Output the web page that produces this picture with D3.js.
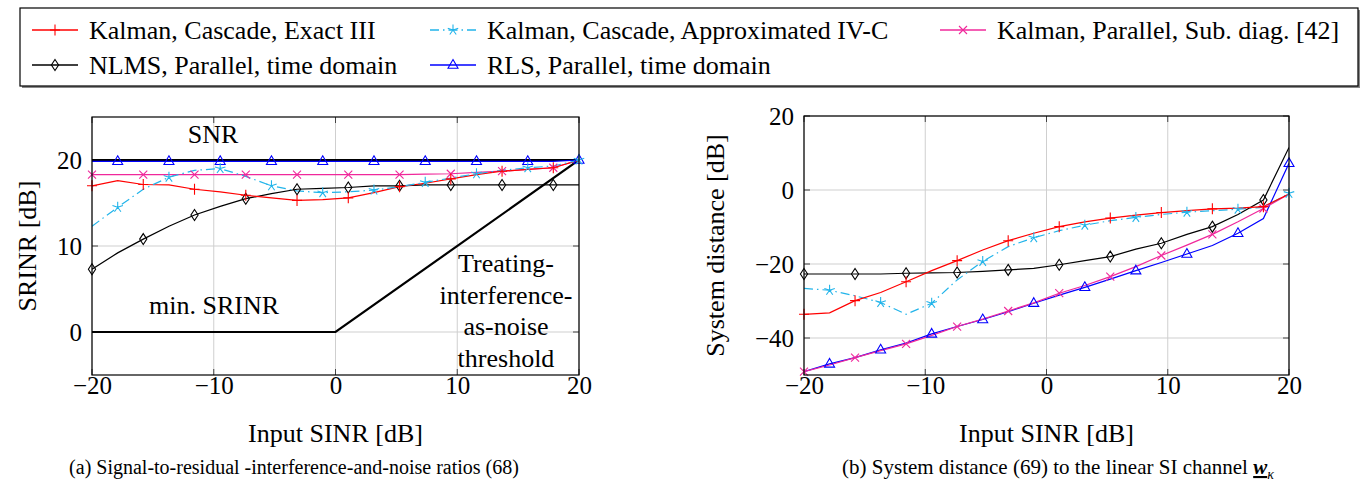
<!DOCTYPE html>
<html>
<head>
<meta charset="utf-8">
<script src="https://cdn.jsdelivr.net/npm/d3@7"></script>
<style>
  body { margin: 0; background: #fff; }
  svg text { font-family: "Liberation Serif", "Times New Roman", serif; fill: #000; }
</style>
</head>
<body>
<svg id="chart" width="1362" height="482"></svg>
<script>
// input SINR grid [dB]
const inputSinr = [-20, -17.89, -15.79, -13.68, -11.58, -9.47, -7.37, -5.26, -3.16, -1.05,
                   1.05, 3.16, 5.26, 7.37, 9.47, 11.58, 13.68, 15.79, 17.89, 20];

// (a) SRINR [dB]
const srinrExact  = [17.0, 17.6, 17.15, 17.1, 16.6, 16.3, 15.9, 15.6, 15.3, 15.4,
                     15.6, 16.2, 16.9, 17.3, 17.8, 18.3, 18.7, 18.9, 19.1, 20.0];
const srinrApprox = [12.3, 14.5, 16.6, 18.0, 18.8, 19.0, 18.1, 17.0, 16.4, 16.2,
                     16.3, 16.5, 16.9, 17.4, 17.9, 18.4, 18.8, 19.1, 19.3, 20.0];
const srinrSubDiag = [18.3, 18.3, 18.3, 18.3, 18.3, 18.3, 18.3, 18.3, 18.3, 18.3,
                      18.3, 18.3, 18.3, 18.35, 18.4, 18.55, 18.7, 18.9, 19.1, 20.0];
const srinrNlms   = [7.3, 9.2, 10.8, 12.3, 13.6, 14.6, 15.5, 16.1, 16.6, 16.7,
                     16.8, 17.0, 17.0, 17.1, 17.1, 17.1, 17.1, 17.1, 17.1, 17.1];
const srinrRls    = [19.85, 19.85, 19.85, 19.85, 19.85, 19.85, 19.85, 19.85, 19.85, 19.85,
                     19.85, 19.85, 19.85, 19.85, 19.85, 19.85, 19.85, 19.85, 19.85, 20.0];
const snrLine     = [[-20, 20], [20, 20]];
const minSrinr    = [[-20, 0], [0, 0], [20, 20]];

// (b) system distance [dB]
const distExact  = [-33.6, -33.2, -29.9, -27.7, -24.8, -21.8, -19.1, -16.2, -13.7, -11.7,
                    -9.9, -8.6, -7.6, -6.8, -6.1, -5.6, -5.1, -4.9, -4.5, -1.1];
const distApprox = [-26.6, -27.1, -28.6, -30.4, -33.6, -30.6, -24.3, -19.3, -15.3, -12.9,
                    -11.0, -9.5, -8.3, -7.4, -6.6, -6.0, -5.6, -5.2, -4.7, -0.9];
const distSubDiag = [-49.1, -47.3, -45.3, -43.4, -41.6, -39.3, -36.9, -34.9, -32.7, -30.5,
                     -27.9, -25.8, -23.4, -20.7, -17.7, -14.9, -12.0, -8.6, -5.0, -1.1];
const distNlms   = [-22.7, -22.7, -22.7, -22.7, -22.5, -22.4, -22.3, -22.0, -21.6, -21.2,
                    -20.2, -19.1, -18.0, -16.0, -14.4, -12.0, -9.9, -6.6, -2.7, 11.5];
const distRls    = [-49.1, -47.0, -45.3, -43.2, -41.4, -38.9, -36.9, -35.0, -32.9, -30.6,
                    -28.4, -26.3, -24.1, -21.8, -19.6, -17.3, -15.0, -11.7, -7.7, 7.2];

const xTicks = [-20, -10, 0, 10, 20];
const yTicksA = [0, 10, 20];
const yTicksB = [-40, -20, 0, 20];

const seriesNames = ['Kalman, Cascade, Exact III', 'Kalman, Cascade, Approximated IV-C',
  'Kalman, Parallel, Sub. diag. [42]', 'NLMS, Parallel, time domain', 'RLS, Parallel, time domain'];

const styles = [
  { color: '#ff0000', mark: 'plus', phase: 0, dash: null },
  { color: '#22b4ea', mark: 'star', phase: 1, dash: '9,4,1.5,4' },
  { color: '#f0289b', mark: 'cross', phase: 0, dash: null },
  { color: '#000000', mark: 'diamond', phase: 0, dash: null },
  { color: '#0000ff', mark: 'triangle', phase: 1, dash: null }
];

const SERIF = '"Liberation Serif", "Times New Roman", serif';
const svg = d3.select('#chart');
const FONT = 26;

function markPath(type) {
  if (type === 'plus') return 'M-5,0H5M0,-5.5V5.5';
  if (type === 'cross') return 'M-4,-4L4,4M-4,4L4,-4';
  if (type === 'diamond') return 'M0,-5.5L3.6,0L0,5.5L-3.6,0Z';
  if (type === 'triangle') return 'M0,-5.5L5,3.2L-5,3.2Z';
  if (type === 'star') {
    let p = '';
    for (let k = 0; k < 5; k++) {
      const a = (-90 + 72 * k) * Math.PI / 180;
      p += `M0,0L${(5.5 * Math.cos(a)).toFixed(2)},${(5.5 * Math.sin(a)).toFixed(2)}`;
    }
    return p;
  }
}

function drawPanel(cfg) {
  const x = d3.scaleLinear().domain([-20, 20]).range([cfg.left, cfg.right]);
  const y = d3.scaleLinear().domain(cfg.yDomain).range([cfg.bottom, cfg.top]);
  const g = svg.append('g');

  // grid
  g.selectAll('.gx').data(xTicks).enter().append('line')
    .attr('x1', d => x(d)).attr('x2', d => x(d)).attr('y1', cfg.top).attr('y2', cfg.bottom)
    .attr('stroke', '#cfcfcf').attr('stroke-width', 1);
  g.selectAll('.gy').data(cfg.yTicks).enter().append('line')
    .attr('x1', cfg.left).attr('x2', cfg.right).attr('y1', d => y(d)).attr('y2', d => y(d))
    .attr('stroke', '#cfcfcf').attr('stroke-width', 1);

  // inner ticks on all four sides
  const tl = 6;
  xTicks.forEach(d => {
    g.append('line').attr('x1', x(d)).attr('x2', x(d)).attr('y1', cfg.bottom).attr('y2', cfg.bottom - tl).attr('stroke', '#444');
    g.append('line').attr('x1', x(d)).attr('x2', x(d)).attr('y1', cfg.top).attr('y2', cfg.top + tl).attr('stroke', '#444');
  });
  cfg.yTicks.forEach(d => {
    g.append('line').attr('x1', cfg.left).attr('x2', cfg.left + tl).attr('y1', y(d)).attr('y2', y(d)).attr('stroke', '#444');
    g.append('line').attr('x1', cfg.right).attr('x2', cfg.right - tl).attr('y1', y(d)).attr('y2', y(d)).attr('stroke', '#444');
  });

  const clipId = 'clip' + cfg.id;
  svg.append('clipPath').attr('id', clipId).append('rect')
    .attr('x', cfg.left).attr('y', cfg.top).attr('width', cfg.right - cfg.left).attr('height', cfg.bottom - cfg.top);
  const plot = g.append('g').attr('clip-path', `url(#${clipId})`);

  const line = d3.line().x(d => x(d[0])).y(d => y(d[1]));

  (cfg.extra || []).forEach(e => {
    plot.append('path').attr('d', line(e)).attr('fill', 'none').attr('stroke', '#000').attr('stroke-width', 2.2);
  });

  cfg.series.forEach((vals, k) => {
    const st = styles[cfg.order[k]];
    const pts = inputSinr.map((v, i) => [v, vals[i]]);
    plot.append('path').attr('d', line(pts)).attr('fill', 'none')
      .attr('stroke', st.color).attr('stroke-width', 1.2)
      .attr('stroke-dasharray', st.dash);
    g.selectAll(null).data(pts.filter((p, i) => i % 2 === st.phase)).enter().append('path')
      .attr('transform', d => `translate(${x(d[0])},${y(d[1])})`)
      .attr('d', markPath(st.mark)).attr('fill', 'none')
      .attr('stroke', st.color).attr('stroke-width', 1.1);
  });

  // frame
  g.append('rect').attr('x', cfg.left).attr('y', cfg.top)
    .attr('width', cfg.right - cfg.left).attr('height', cfg.bottom - cfg.top)
    .attr('fill', 'none').attr('stroke', '#000').attr('stroke-width', 1.2);

  // tick labels
  const ax = g.append('g').attr('transform', `translate(0,${cfg.bottom})`)
    .call(d3.axisBottom(x).tickValues(xTicks).tickSize(0).tickPadding(1));
  const ay = g.append('g').attr('transform', `translate(${cfg.left},0)`)
    .call(d3.axisLeft(y).tickValues(cfg.yTicks).tickSize(0).tickPadding(10));
  [ax, ay].forEach(a => {
    a.select('.domain').remove();
    a.attr('font-family', SERIF).attr('font-size', 25);
    a.selectAll('text').attr('font-family', SERIF).attr('font-size', 25).attr('fill', '#000');
  });

  g.append('text').attr('x', (cfg.left + cfg.right) / 2).attr('y', 442)
    .attr('text-anchor', 'middle').attr('font-size', FONT).text('Input SINR [dB]');
  g.append('text').attr('transform', `translate(${cfg.yLabelX},${(cfg.top + cfg.bottom) / 2}) rotate(-90)`)
    .attr('text-anchor', 'middle').attr('dy', '0.35em').attr('font-size', FONT).text(cfg.yLabel);
  return { g, x, y };
}

const a = drawPanel({
  id: 'a', left: 92, right: 579, top: 117, bottom: 375, yDomain: [-5, 25], yTicks: yTicksA,
  yLabel: 'SRINR [dB]', yLabelX: 27,
  extra: [snrLine, minSrinr],
  series: [srinrSubDiag, srinrRls, srinrNlms, srinrExact, srinrApprox], order: [2, 4, 3, 0, 1]
});
a.g.append('text').attr('x', 213).attr('y', 143).attr('text-anchor', 'middle').attr('font-size', FONT).text('SNR');
a.g.append('text').attr('x', 214).attr('y', 314).attr('text-anchor', 'middle').attr('font-size', FONT).text('min. SRINR');
['Treating-', 'interference-', 'as-noise', 'threshold'].forEach((t, i) => {
  a.g.append('text').attr('x', 506).attr('y', 272 + i * 31.7).attr('text-anchor', 'middle')
    .attr('font-size', FONT).text(t);
});

drawPanel({
  id: 'b', left: 804, right: 1289, top: 116, bottom: 375, yDomain: [-50, 20], yTicks: yTicksB,
  yLabel: 'System distance [dB]', yLabelX: 715,
  series: [distNlms, distRls, distSubDiag, distApprox, distExact], order: [3, 4, 2, 1, 0]
});

// captions
svg.append('text').attr('x', 294).attr('y', 474).attr('text-anchor', 'middle').attr('font-size', 20)
  .text('(a) Signal-to-residual -interference-and-noise ratios (68)');
const capB = svg.append('text').attr('x', 1058).attr('y', 474).attr('text-anchor', 'middle').attr('font-size', 21);
capB.append('tspan').text('(b) System distance (69) to the linear SI channel ');
capB.append('tspan').attr('font-weight', 'bold').attr('font-style', 'italic')
  .attr('text-decoration', 'underline').text('w');
capB.append('tspan').attr('font-style', 'italic').attr('font-size', 14).attr('dy', 5).text('κ');

// legend
const leg = svg.append('g');
leg.append('rect').attr('x', 22).attr('y', 10).attr('width', 1338).attr('height', 78).attr('fill', '#888');
leg.append('rect').attr('x', 20).attr('y', 8).attr('width', 1338).attr('height', 78)
  .attr('fill', '#fff').attr('stroke', '#000').attr('stroke-width', 1.2);
const rows = [30, 65];
const colX = [32, 430, 940];
seriesNames.forEach((name, k) => {
  const st = styles[k];
  const cx = colX[k % 3], cy = rows[Math.floor(k / 3)];
  leg.append('line').attr('x1', cx).attr('x2', cx + 46).attr('y1', cy).attr('y2', cy)
    .attr('stroke', st.color).attr('stroke-width', 1.4).attr('stroke-dasharray', st.dash);
  leg.append('path').attr('transform', `translate(${cx + 23},${cy})`).attr('d', markPath(st.mark))
    .attr('fill', 'none').attr('stroke', st.color).attr('stroke-width', 1.1);
  leg.append('text').attr('x', cx + 57).attr('y', cy + 8.5).attr('font-size', FONT).text(name);
});
</script>
</body>
</html>
